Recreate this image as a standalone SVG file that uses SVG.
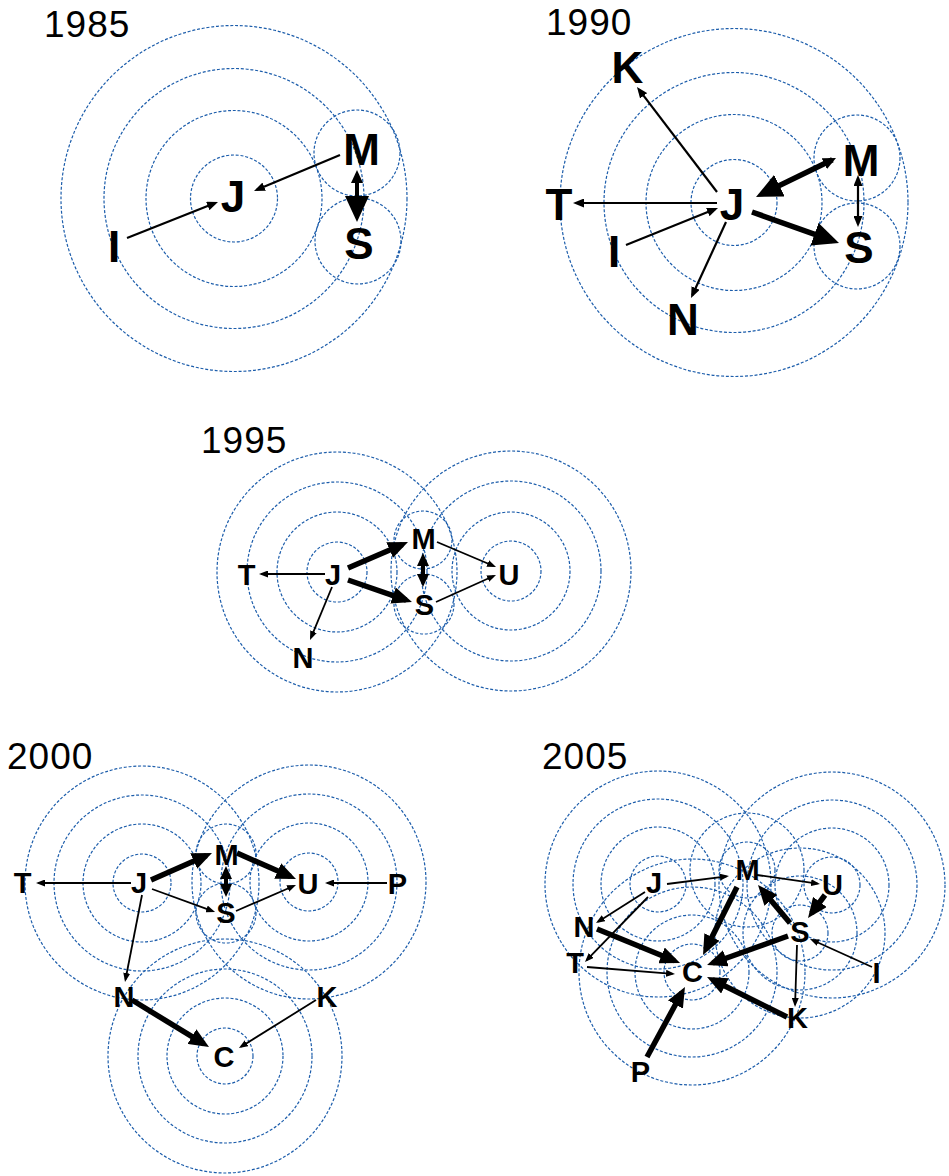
<svg xmlns="http://www.w3.org/2000/svg" width="949" height="1176" viewBox="0 0 949 1176">
<style>
.ring{fill:none;stroke:#1c5dab;stroke-width:1.2;stroke-dasharray:3 1.8}
.yr{font-family:"Liberation Sans",Arial,sans-serif;font-size:37px;fill:#000;letter-spacing:1px}
.nl{font-family:"Liberation Sans",Arial,sans-serif;font-weight:bold;font-size:44px;text-anchor:middle;fill:#000}
.ns{font-size:29px}
.t1{stroke:#000;stroke-width:2.2;fill:none}
.t2{stroke:#000;stroke-width:1.8;fill:none}
.k4{stroke:#000;stroke-width:4;fill:none}
.k5{stroke:#000;stroke-width:5.5;fill:none}
</style>
<defs>
<marker id="ms" viewBox="0 0 11 9" markerWidth="11" markerHeight="9" refX="8" refY="4.5" orient="auto-start-reverse" markerUnits="userSpaceOnUse"><path d="M0,0L11,4.5L0,9z" fill="#000"/></marker>
<marker id="mxs" viewBox="0 0 9 7" markerWidth="9" markerHeight="7" refX="6.5" refY="3.5" orient="auto-start-reverse" markerUnits="userSpaceOnUse"><path d="M0,0L9,3.5L0,7z" fill="#000"/></marker>
<marker id="mm" viewBox="0 0 13 12" markerWidth="13" markerHeight="12" refX="9" refY="6" orient="auto-start-reverse" markerUnits="userSpaceOnUse"><path d="M0,0L13,6L0,12z" fill="#000"/></marker>
<marker id="ml" viewBox="0 0 20 17" markerWidth="20" markerHeight="17" refX="14" refY="8.5" orient="auto-start-reverse" markerUnits="userSpaceOnUse"><path d="M0,0L20,8.5L0,17z" fill="#000"/></marker>
<marker id="mxl" viewBox="0 0 26 24" markerWidth="26" markerHeight="24" refX="19" refY="12" orient="auto-start-reverse" markerUnits="userSpaceOnUse"><path d="M0,0L26,12L0,24z" fill="#000"/></marker>
</defs>

<g id="years">
<text class="yr" x="44" y="37">1985</text>
<text class="yr" x="546" y="35">1990</text>
<text class="yr" x="201" y="453">1995</text>
<text class="yr" x="7" y="769">2000</text>
<text class="yr" x="542" y="769">2005</text>
</g>

<g id="rings">
<circle class="ring" cx="234" cy="198.5" r="43.5"/>
<circle class="ring" cx="234" cy="198.5" r="88"/>
<circle class="ring" cx="234" cy="198.5" r="130"/>
<circle class="ring" cx="234" cy="198.5" r="173"/>
<circle class="ring" cx="357" cy="153" r="43"/>
<circle class="ring" cx="358" cy="241" r="43"/>
<circle class="ring" cx="734" cy="202.5" r="43"/>
<circle class="ring" cx="734" cy="202.5" r="88"/>
<circle class="ring" cx="734" cy="202.5" r="130"/>
<circle class="ring" cx="734" cy="202.5" r="174"/>
<circle class="ring" cx="857" cy="158" r="43"/>
<circle class="ring" cx="857" cy="246" r="43"/>
<circle class="ring" cx="337" cy="572" r="30"/>
<circle class="ring" cx="337" cy="572" r="60"/>
<circle class="ring" cx="337" cy="572" r="90"/>
<circle class="ring" cx="337" cy="572" r="120"/>
<circle class="ring" cx="511" cy="571" r="30"/>
<circle class="ring" cx="511" cy="571" r="59"/>
<circle class="ring" cx="511" cy="571" r="90"/>
<circle class="ring" cx="511" cy="571" r="120"/>
<circle class="ring" cx="423" cy="540" r="29"/>
<circle class="ring" cx="424" cy="604" r="30"/>
<circle class="ring" cx="142" cy="883" r="29"/>
<circle class="ring" cx="142" cy="883" r="59"/>
<circle class="ring" cx="142" cy="883" r="88"/>
<circle class="ring" cx="142" cy="883" r="117"/>
<circle class="ring" cx="309" cy="882" r="29"/>
<circle class="ring" cx="309" cy="882" r="59"/>
<circle class="ring" cx="309" cy="882" r="88"/>
<circle class="ring" cx="309" cy="882" r="117"/>
<circle class="ring" cx="225" cy="1056" r="28"/>
<circle class="ring" cx="225" cy="1056" r="58"/>
<circle class="ring" cx="225" cy="1056" r="87"/>
<circle class="ring" cx="225" cy="1056" r="117"/>
<circle class="ring" cx="226" cy="854" r="30"/>
<circle class="ring" cx="226" cy="913" r="30"/>
<circle class="ring" cx="658" cy="884" r="28"/>
<circle class="ring" cx="658" cy="884" r="57"/>
<circle class="ring" cx="658" cy="884" r="85"/>
<circle class="ring" cx="658" cy="884" r="113"/>
<circle class="ring" cx="832" cy="885" r="28"/>
<circle class="ring" cx="832" cy="885" r="57"/>
<circle class="ring" cx="832" cy="885" r="85"/>
<circle class="ring" cx="832" cy="885" r="113"/>
<circle class="ring" cx="692" cy="972" r="28"/>
<circle class="ring" cx="692" cy="972" r="57"/>
<circle class="ring" cx="692" cy="972" r="85"/>
<circle class="ring" cx="692" cy="972" r="113"/>
<circle class="ring" cx="747" cy="870" r="28"/>
<circle class="ring" cx="747" cy="870" r="57"/>
<circle class="ring" cx="800" cy="933" r="28"/>
<circle class="ring" cx="800" cy="933" r="57"/>
<circle class="ring" cx="800" cy="933" r="85"/>
</g>

<g id="connectors">
<line class="t1" x1="127" y1="238" x2="215.2" y2="203.1" marker-end="url(#ms)"/>
<line class="t1" x1="340" y1="155" x2="256.8" y2="189.8" marker-end="url(#ms)"/>
<line class="k4" x1="357" y1="174" x2="357" y2="215" marker-start="url(#mm)" marker-end="url(#mxl)"/>
<line class="t1" x1="717" y1="192" x2="638.8" y2="89.4" marker-end="url(#ms)"/>
<line class="t1" x1="717" y1="203" x2="576" y2="203" marker-end="url(#ms)"/>
<line class="t1" x1="626" y1="245" x2="715.2" y2="209.1" marker-end="url(#ms)"/>
<line class="t1" x1="726" y1="222" x2="692.3" y2="295.3" marker-end="url(#ms)"/>
<line class="k5" x1="832.4" y1="159.8" x2="762.3" y2="193.9" marker-start="url(#mm)" marker-end="url(#mxl)"/>
<line class="k5" x1="752" y1="212" x2="832.4" y2="240.6" marker-end="url(#mxl)"/>
<line class="t1" x1="858" y1="178" x2="858" y2="224" marker-start="url(#ms)" marker-end="url(#ms)"/>
<line class="t2" x1="325" y1="574" x2="261.5" y2="574" marker-end="url(#mxs)"/>
<line class="k5" x1="348" y1="568" x2="402.5" y2="544.4" marker-end="url(#ml)"/>
<line class="k5" x1="348" y1="580" x2="406.3" y2="600.1" marker-end="url(#ml)"/>
<line class="k4" x1="423" y1="557" x2="423" y2="583" marker-start="url(#mm)" marker-end="url(#mm)"/>
<line class="t2" x1="437" y1="542" x2="493.7" y2="566" marker-end="url(#mxs)"/>
<line class="t2" x1="436" y1="602" x2="493.7" y2="576" marker-end="url(#mxs)"/>
<line class="t2" x1="332" y1="587" x2="311" y2="637.7" marker-end="url(#mxs)"/>
<line class="t2" x1="131" y1="883" x2="38.5" y2="883" marker-end="url(#mxs)"/>
<line class="k5" x1="151" y1="880" x2="206.5" y2="855.4" marker-end="url(#ml)"/>
<line class="k5" x1="237" y1="853" x2="290.5" y2="876.6" marker-end="url(#ml)"/>
<line class="k4" x1="226" y1="870" x2="226" y2="893" marker-start="url(#mm)" marker-end="url(#mm)"/>
<line class="t2" x1="152" y1="889" x2="212.7" y2="911.1" marker-end="url(#mxs)"/>
<line class="t2" x1="236" y1="911" x2="293.7" y2="886" marker-end="url(#mxs)"/>
<line class="t2" x1="387" y1="883" x2="327.5" y2="883" marker-end="url(#mxs)"/>
<line class="t2" x1="142" y1="895" x2="125.5" y2="979.5" marker-end="url(#mxs)"/>
<line class="k5" x1="132" y1="1000" x2="203.9" y2="1043.9" marker-end="url(#ml)"/>
<line class="t2" x1="316" y1="1000" x2="241.1" y2="1046.7" marker-end="url(#mxs)"/>
<line class="t2" x1="667" y1="884" x2="726.5" y2="876.3" marker-end="url(#mxs)"/>
<line class="t2" x1="757" y1="875" x2="817.5" y2="883.6" marker-end="url(#mxs)"/>
<line class="k5" x1="825" y1="895" x2="811.6" y2="913.2" marker-end="url(#ml)"/>
<line class="k5" x1="790" y1="923" x2="761.9" y2="889.6" marker-end="url(#ml)"/>
<line class="k5" x1="737" y1="887" x2="705.7" y2="949.6" marker-end="url(#ml)"/>
<line class="k5" x1="788" y1="936" x2="712.7" y2="963" marker-end="url(#ml)"/>
<line class="t2" x1="797" y1="945" x2="795.1" y2="1004.5" marker-end="url(#mxs)"/>
<line class="t2" x1="872" y1="967" x2="812.3" y2="940" marker-end="url(#mxs)"/>
<line class="k5" x1="787" y1="1017" x2="712.4" y2="979.7" marker-end="url(#ml)"/>
<line class="t2" x1="645" y1="892" x2="598.1" y2="921.7" marker-end="url(#mxs)"/>
<line class="t2" x1="648" y1="897" x2="586.7" y2="960.2" marker-end="url(#mxs)"/>
<line class="k5" x1="597" y1="929" x2="674.5" y2="960.7" marker-end="url(#ml)"/>
<line class="t2" x1="587" y1="967" x2="672.5" y2="973.8" marker-end="url(#mxs)"/>
<line class="k5" x1="647" y1="1057" x2="682.1" y2="992.3" marker-end="url(#ml)"/>
</g>

<g id="n1985-J"><text class="nl" x="233" y="212">J</text></g>
<g id="n1985-I"><text class="nl" x="114" y="262">I</text></g>
<g id="n1985-M"><text class="nl" x="361.5" y="165">M</text></g>
<g id="n1985-S"><text class="nl" x="359" y="259">S</text></g>

<g id="n1990-K"><text class="nl" x="627.5" y="83">K</text></g>
<g id="n1990-T"><text class="nl" x="559" y="220">T</text></g>
<g id="n1990-J"><text class="nl" x="732" y="220">J</text></g>
<g id="n1990-I"><text class="nl" x="614" y="267">I</text></g>
<g id="n1990-N"><text class="nl" x="683" y="335">N</text></g>
<g id="n1990-M"><text class="nl" x="861" y="176">M</text></g>
<g id="n1990-S"><text class="nl" x="859" y="263">S</text></g>

<g id="n1995-T"><text class="nl ns" x="246.5" y="585">T</text></g>
<g id="n1995-J"><text class="nl ns" x="333" y="585">J</text></g>
<g id="n1995-M"><text class="nl ns" x="423.5" y="549">M</text></g>
<g id="n1995-S"><text class="nl ns" x="424.5" y="615">S</text></g>
<g id="n1995-U"><text class="nl ns" x="509" y="585">U</text></g>
<g id="n1995-N"><text class="nl ns" x="303" y="668">N</text></g>

<g id="n2000-T"><text class="nl ns" x="22.5" y="893">T</text></g>
<g id="n2000-J"><text class="nl ns" x="139" y="893">J</text></g>
<g id="n2000-M"><text class="nl ns" x="226.5" y="865">M</text></g>
<g id="n2000-U"><text class="nl ns" x="308" y="894">U</text></g>
<g id="n2000-P"><text class="nl ns" x="397.5" y="894">P</text></g>
<g id="n2000-S"><text class="nl ns" x="226" y="923">S</text></g>
<g id="n2000-N"><text class="nl ns" x="124" y="1007">N</text></g>
<g id="n2000-K"><text class="nl ns" x="327" y="1007">K</text></g>
<g id="n2000-C"><text class="nl ns" x="224" y="1067">C</text></g>

<g id="n2005-M"><text class="nl ns" x="747.5" y="880">M</text></g>
<g id="n2005-J"><text class="nl ns" x="654" y="893">J</text></g>
<g id="n2005-U"><text class="nl ns" x="832.5" y="895">U</text></g>
<g id="n2005-N"><text class="nl ns" x="584" y="937">N</text></g>
<g id="n2005-S"><text class="nl ns" x="800" y="942">S</text></g>
<g id="n2005-T"><text class="nl ns" x="575" y="973">T</text></g>
<g id="n2005-C"><text class="nl ns" x="692.5" y="982">C</text></g>
<g id="n2005-I"><text class="nl ns" x="876.5" y="983">I</text></g>
<g id="n2005-K"><text class="nl ns" x="797.5" y="1028">K</text></g>
<g id="n2005-P"><text class="nl ns" x="640.5" y="1082">P</text></g>
</svg>
